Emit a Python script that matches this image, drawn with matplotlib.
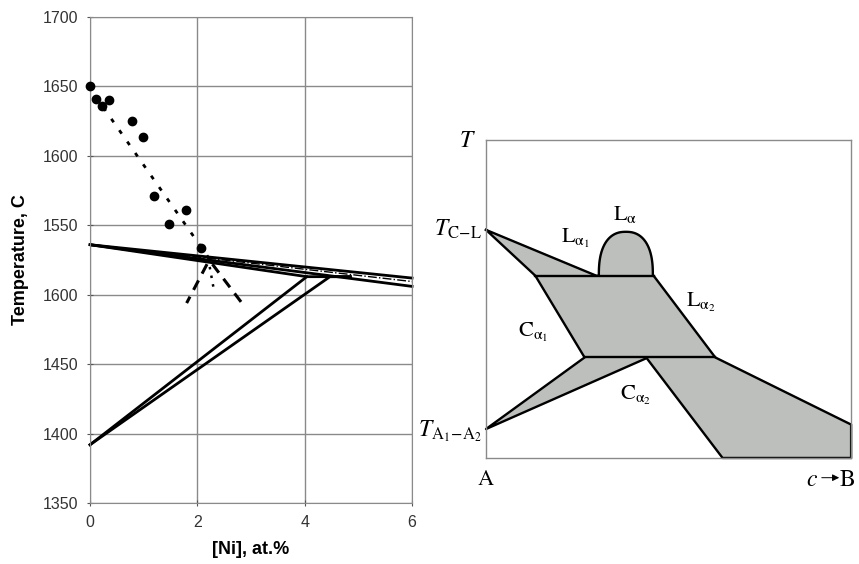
import numpy as np
import matplotlib
matplotlib.use("Agg")
import matplotlib.pyplot as plt

# measured points, Fe-Ni liquidus
ni_pts = [0.0, 0.11, 0.22, 0.35, 0.79, 0.99, 1.20, 1.48, 1.79, 2.07]
t_pts = [1650, 1641, 1636, 1640.5, 1625, 1613.5, 1571, 1551, 1561, 1534]

# dotted fit through the points
fit_x = [0.1, 2.22]
fit_t = [1643, 1526]

# inverted V near 2.2 at.%
v_left_x = [2.18, 1.80]
v_left_t = [1522, 1494]
v_right_x = [2.28, 2.83]
v_right_t = [1522, 1494]
v_mid_x = [2.23, 2.31]
v_mid_t = [1520, 1503]

# calculated lines
liq1_x = [0, 6]
liq1_t = [1536, 1506]
liq2_x = [0, 6]
liq2_t = [1536, 1512]
dsol_x = [0, 4.04, 4.85]
dsol_t = [1536, 1513, 1513]
gam1_x = [0, 4.04]
gam1_t = [1392, 1513]
gam2_x = [0, 4.47, 4.85]
gam2_t = [1392, 1513, 1513]
dd_x = [0, 6]
dd_t = [1536, 1509.5]

yticks = [1350, 1400, 1450, 1500, 1550, 1600, 1650, 1700]
ytick_labels = ["1350", "1400", "1450", "1600", "1550", "1600", "1650", "1700"]
xticks = [0, 2, 4, 6]

# schematic diagram (box coords 0..1)
tcl = (0.0, 0.717)
ta = (0.0, 0.091)
top_v = 0.573
bot_v = 0.316
top_left_u, top_right_u = 0.135, 0.459
bot_left_u, bot_right_u = 0.270, 0.628
la1_end_u = 0.302
dome_u = [0.309, 0.457]
dome_top = 0.711
ca2_pt = (0.440, 0.314)
band_bottom_u = 0.648
band_right_v = 0.105

fig = plt.figure(figsize=(8.59, 5.64), dpi=100)

# ---------- left chart ----------
ax = fig.add_axes([0.1048, 0.108, 0.3749, 0.862])
ax.set_xlim(0, 6)
ax.set_ylim(1350, 1700)
ax.set_xticks(xticks)
ax.set_yticks(yticks)
ax.set_yticklabels(ytick_labels)
ax.grid(True, color="#8a8a8a", lw=1)
for s in ax.spines.values():
    s.set_color("#8a8a8a")
ax.tick_params(direction="inout", length=5, color="#555555", labelcolor="#333333",
               labelsize=11.5, pad=6)
for lab in ax.get_xticklabels() + ax.get_yticklabels():
    lab.set_family("Liberation Sans")

lw = 2.0
ax.plot(liq1_x, liq1_t, color="black", lw=lw, clip_on=False)
ax.plot(liq2_x, liq2_t, color="black", lw=lw, clip_on=False)
ax.plot(dd_x, dd_t, color="black", lw=1.0, ls="-.")
ax.plot(dsol_x, dsol_t, color="black", lw=lw)
ax.plot(gam1_x, gam1_t, color="black", lw=lw, clip_on=False)
ax.plot(gam2_x, gam2_t, color="black", lw=lw, clip_on=False)

ax.plot(fit_x, fit_t, color="black", lw=2, ls=(0, (1.5, 3.5)))
ax.plot(v_left_x, v_left_t, color="black", lw=2.2, ls=(0, (3.5, 2.5)))
ax.plot(v_right_x, v_right_t, color="black", lw=2.2, ls=(0, (3.5, 2.5)))
ax.plot(v_mid_x, v_mid_t, color="black", lw=1.8, ls=(0, (1, 2.5)))

ax.plot(ni_pts, t_pts, "o", color="black", ms=6, clip_on=False, zorder=5)

ax.set_xlabel("[Ni], at.%", fontsize=13, fontweight="bold", family="Liberation Sans",
              labelpad=8)
ax.set_ylabel("Temperature, C", fontsize=13, fontweight="bold", family="Liberation Sans",
              labelpad=10)

# ---------- right schematic ----------
plt.rcParams["mathtext.fontset"] = "stix"
bx = fig.add_axes([0.5658, 0.188, 0.425, 0.564])
bx.set_xlim(0, 1)
bx.set_ylim(0, 1)
bx.set_xticks([])
bx.set_yticks([])
for s in bx.spines.values():
    s.set_color("#8a8a8a")
    s.set_linewidth(1)

cu = (dome_u[0] + dome_u[1]) / 2
a = (dome_u[1] - dome_u[0]) / 2
th = np.linspace(np.pi, 0, 60)
dome_x = cu + a * np.sign(np.cos(th)) * np.abs(np.cos(th)) ** 0.85
dome_y = top_v + (dome_top - top_v) * np.sin(th) ** 0.8

poly_x = [tcl[0], la1_end_u] + list(dome_x) + [top_right_u, bot_right_u, 1.0, 1.0,
          band_bottom_u, ca2_pt[0], ta[0], bot_left_u, top_left_u, tcl[0]]
poly_y = [tcl[1], top_v] + list(dome_y) + [top_v, bot_v, band_right_v, 0.0,
          0.0, ca2_pt[1], ta[1], bot_v, top_v, tcl[1]]
bx.fill(poly_x, poly_y, color="#bcbfbc", zorder=1)
bx.plot(poly_x, poly_y, color="black", lw=1.7, zorder=2, clip_on=False)
bx.plot([top_left_u, top_right_u], [top_v, top_v], color="black", lw=1.7, zorder=2)
bx.plot([bot_left_u, bot_right_u], [bot_v, bot_v], color="black", lw=1.7, zorder=2)

fs = 16
al = r"\mathrm{\alpha}"
bx.text(0.38, 0.765, r"$\mathrm{L}_{%s}$" % al, fontsize=fs, ha="center", va="center")
bx.text(0.245, 0.69, r"$\mathrm{L}_{%s_1}$" % al, fontsize=fs, ha="center", va="center")
bx.text(0.59, 0.49, r"$\mathrm{L}_{%s_2}$" % al, fontsize=fs, ha="center", va="center")
bx.text(0.13, 0.395, r"$\mathrm{C}_{%s_1}$" % al, fontsize=fs, ha="center", va="center")
bx.text(0.41, 0.195, r"$\mathrm{C}_{%s_2}$" % al, fontsize=fs, ha="center", va="center")
bx.text(-0.012, 0.72, r"$T_{\mathrm{C\!-\!L}}$", fontsize=fs + 1, ha="right", va="center")
bx.text(-0.012, 0.085, r"$T_{\mathrm{A_1\!-\!A_2}}$", fontsize=fs + 1, ha="right", va="center")
bx.text(-0.05, 1.0, r"$T$", fontsize=fs + 1, ha="center", va="center")
bx.text(0.0, -0.065, r"$\mathrm{A}$", fontsize=fs, ha="center", va="center")
bx.text(0.893, -0.065, r"$c$", fontsize=fs + 1, ha="center", va="center")
bx.text(0.99, -0.065, r"$\mathrm{B}$", fontsize=fs + 1, ha="center", va="center")
bx.annotate("", xy=(0.975, -0.062), xytext=(0.912, -0.062), xycoords="axes fraction",
            arrowprops=dict(arrowstyle="-|>", color="black", lw=0.7, mutation_scale=10))

fig.savefig("out.png", dpi=100)
